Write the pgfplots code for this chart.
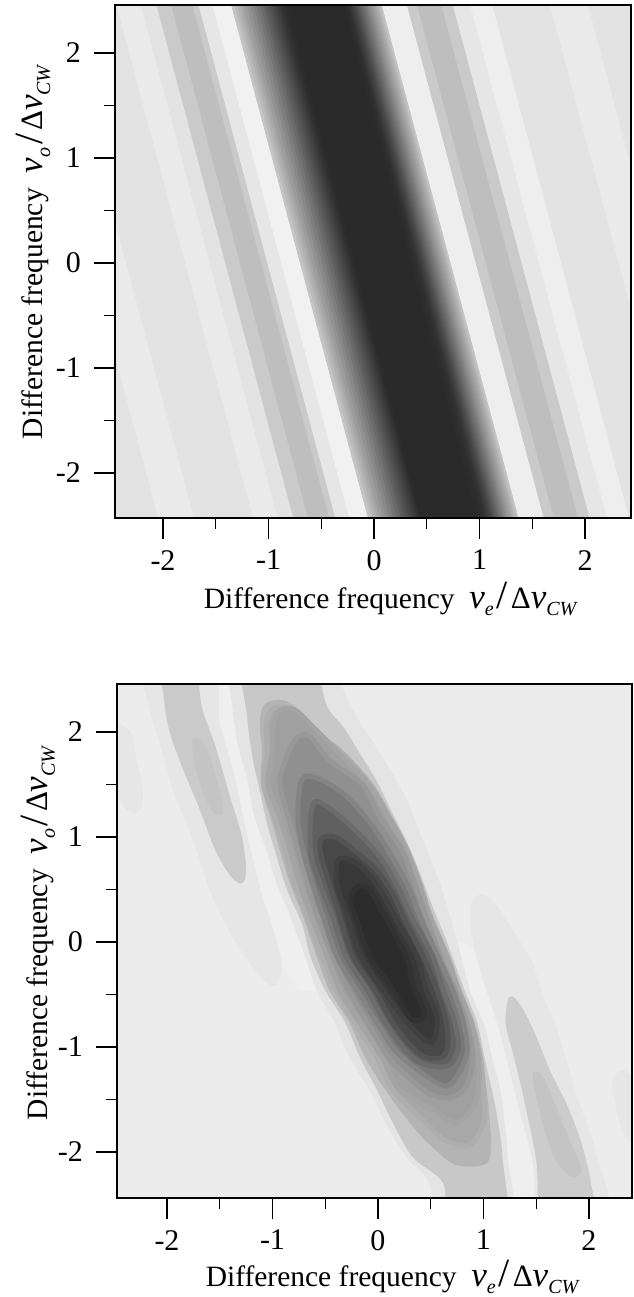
\documentclass[border=0pt]{standalone}
\usepackage{fontspec}
\setmainfont{Liberation Serif}
\usepackage{pgfplots}
\pgfplotsset{compat=1.18}
\newcommand\dc[1]{\definecolor{g#1}{HTML}{#1#1#1}}
\dc{EF}\dc{EE}\dc{EC}\dc{EA}\dc{E8}\dc{E6}\dc{E4}\dc{E3}\dc{CC}\dc{CA}\dc{C8}\dc{C4}\dc{C2}\dc{BE}\dc{BA}\dc{B4}\dc{B0}\dc{AE}\dc{A8}\dc{A6}\dc{A4}\dc{A0}\dc{9C}\dc{98}\dc{92}\dc{90}\dc{88}\dc{84}\dc{7E}\dc{78}\dc{74}\dc{6C}\dc{6A}\dc{60}\dc{58}\dc{54}\dc{50}\dc{48}\dc{42}\dc{40}\dc{3C}\dc{38}\dc{36}\dc{32}\dc{2E}\dc{2C}\dc{2A}\dc{F1}
\newcommand\fs{\fontsize{29.5}{32}\selectfont}
\newcommand\sub[1]{\raisebox{-0.24em}{\fontsize{20}{20}\selectfont\itshape #1}}
\newcommand\nuu{{\fontsize{35}{35}\selectfont\itshape ν}}
\newcommand\lab[1]{\fs Difference frequency\hspace{.5em}\nuu\sub{#1}\hspace{.1em}{\fontsize{40}{40}\selectfont /}\hspace{.1em}{\fontsize{31}{31}\selectfont Δ}\nuu\sub{CW}}
\pgfplotsset{panel/.style={
  scale only axis, anchor=south west, axis on top,
  line width=1.7pt,
  tick pos=left, tick align=outside,
  major tick length=21pt, minor tick length=11pt,
  every tick/.style={line width=1.2pt,black},
  every minor tick/.style={line width=1.2pt,black},
  xtick={-2,-1,0,1,2}, ytick={-2,-1,0,1,2},
  xticklabels={-2,-1,0,1,2}, yticklabels={-2,-1,0,1,2},
  minor xtick={-1.5,-0.5,0.5,1.5}, minor ytick={-1.5,-0.5,0.5,1.5},
  xticklabel style={font=\fontsize{30}{32}\selectfont, yshift=-7pt},
  yticklabel style={font=\fontsize{30}{32}\selectfont, xshift=-9pt},
  xlabel style={anchor=center},
  ylabel style={anchor=center},
  flat/.style={smooth cycle, tension=0.55, draw=none, fill=##1},
  lev/.style 2 args={smooth cycle, tension=0.55, draw=##2, line width=5pt, line join=round, fill=##1},
}}
\begin{document}
\begin{tikzpicture}
\useasboundingbox (0,0) rectangle (633pt,1297pt);
\begin{axis}[panel, at={(115pt,779pt)}, width=516pt, height=513pt,
  xmin=-2.455, xmax=2.436, ymin=-2.429, ymax=2.457,
  axis background/.style={fill=gE3},
  xlabel={\lab{e}}, ylabel={\lab{o}},
  xlabel style={at={(axis description cs:0.533,-0.158)}},
  ylabel style={at={(axis description cs:-0.158,0.518)}}]
\addplot[draw=none,fill=gEA] coordinates {(-2.00,-2.6) (-1.66,-2.6) (-3.04,2.6) (-3.38,2.6)} --cycle;
\addplot[draw=none,fill=gEA] coordinates {(-1.10,-2.6) (-0.87,-2.6) (-2.25,2.6) (-2.48,2.6)} --cycle;
\addplot[draw=none,fill=gCA] coordinates {(-0.72,-2.6) (-0.32,-2.6) (-1.70,2.6) (-2.10,2.6)} --cycle;
\addplot[draw=none,fill=gBE] coordinates {(-0.58,-2.6) (-0.38,-2.6) (-1.76,2.6) (-1.96,2.6)} --cycle;
\addplot[draw=none,fill=gE6] coordinates {(-0.32,-2.6) (-0.19,-2.6) (-1.57,2.6) (-1.70,2.6)} --cycle;
\addplot[draw=none,fill=gF1] coordinates {(-0.19,-2.6) (-0.01,-2.6) (-1.39,2.6) (-1.57,2.6)} --cycle;
\addplot[draw=none,fill=gEE] coordinates {(1.415,-2.6) (1.654,-2.6) (0.274,2.6) (0.035,2.6)} --cycle;
\addplot[draw=none,fill=gCA] coordinates {(1.654,-2.6) (2.09,-2.6) (0.71,2.6) (0.274,2.6)} --cycle;
\addplot[draw=none,fill=gBE] coordinates {(1.75,-2.6) (1.978,-2.6) (0.598,2.6) (0.37,2.6)} --cycle;
\addplot[draw=none,fill=gE6] coordinates {(2.09,-2.6) (2.253,-2.6) (0.873,2.6) (0.71,2.6)} --cycle;
\addplot[draw=none,fill=gEE] coordinates {(2.253,-2.6) (2.463,-2.6) (1.083,2.6) (0.873,2.6)} --cycle;
\addplot[draw=none,fill=gEA] coordinates {(3.01,-2.6) (3.37,-2.6) (1.99,2.6) (1.63,2.6)} --cycle;
\addplot[draw=none,fill=gC4] coordinates {(-0.012,-2.6) (1.415,-2.6) (0.035,2.6) (-1.392,2.6)} --cycle;
\addplot[draw=none,fill=gBA] coordinates {(0.017,-2.6) (1.397,-2.6) (0.017,2.6) (-1.363,2.6)} --cycle;
\addplot[draw=none,fill=gB0] coordinates {(0.046,-2.6) (1.379,-2.6) (-0.001,2.6) (-1.334,2.6)} --cycle;
\addplot[draw=none,fill=gA6] coordinates {(0.074,-2.6) (1.36,-2.6) (-0.02,2.6) (-1.306,2.6)} --cycle;
\addplot[draw=none,fill=g9C] coordinates {(0.101,-2.6) (1.340,-2.6) (-0.04,2.6) (-1.279,2.6)} --cycle;
\addplot[draw=none,fill=g92] coordinates {(0.134,-2.6) (1.319,-2.6) (-0.061,2.6) (-1.246,2.6)} --cycle;
\addplot[draw=none,fill=g88] coordinates {(0.166,-2.6) (1.298,-2.6) (-0.082,2.6) (-1.214,2.6)} --cycle;
\addplot[draw=none,fill=g7E] coordinates {(0.198,-2.6) (1.279,-2.6) (-0.101,2.6) (-1.182,2.6)} --cycle;
\addplot[draw=none,fill=g74] coordinates {(0.23,-2.6) (1.26,-2.6) (-0.12,2.6) (-1.15,2.6)} --cycle;
\addplot[draw=none,fill=g6A] coordinates {(0.263,-2.6) (1.239,-2.6) (-0.141,2.6) (-1.117,2.6)} --cycle;
\addplot[draw=none,fill=g60] coordinates {(0.295,-2.6) (1.218,-2.6) (-0.162,2.6) (-1.085,2.6)} --cycle;
\addplot[draw=none,fill=g58] coordinates {(0.323,-2.6) (1.201,-2.6) (-0.179,2.6) (-1.057,2.6)} --cycle;
\addplot[draw=none,fill=g50] coordinates {(0.35,-2.6) (1.185,-2.6) (-0.195,2.6) (-1.03,2.6)} --cycle;
\addplot[draw=none,fill=g48] coordinates {(0.375,-2.6) (1.169,-2.6) (-0.211,2.6) (-1.005,2.6)} --cycle;
\addplot[draw=none,fill=g42] coordinates {(0.399,-2.6) (1.153,-2.6) (-0.227,2.6) (-0.981,2.6)} --cycle;
\addplot[draw=none,fill=g3C] coordinates {(0.42,-2.6) (1.136,-2.6) (-0.244,2.6) (-0.96,2.6)} --cycle;
\addplot[draw=none,fill=g36] coordinates {(0.441,-2.6) (1.12,-2.6) (-0.26,2.6) (-0.939,2.6)} --cycle;
\addplot[draw=none,fill=g32] coordinates {(0.46,-2.6) (1.107,-2.6) (-0.273,2.6) (-0.92,2.6)} --cycle;
\addplot[draw=none,fill=g2E] coordinates {(0.47,-2.6) (1.08,-2.6) (-0.285,2.6) (-0.90,2.6)} --cycle;
\addplot[draw=none,fill=g2C] coordinates {(0.48,-2.6) (1.05,-2.6) (-0.305,2.6) (-0.88,2.6)} --cycle;
\addplot[draw=none,fill=g2A] coordinates {(0.49,-2.6) (1.02,-2.6) (-0.324,2.6) (-0.858,2.6)} --cycle;
\end{axis}
\begin{axis}[panel, at={(117pt,99pt)}, width=515pt, height=514pt,
  xmin=-2.474, xmax=2.408, ymin=-2.438, ymax=2.457,
  axis background/.style={fill=gEC},
  xlabel={\lab{e}}, ylabel={\lab{o}},
  xlabel style={at={(axis description cs:0.534,-0.154)}},
  ylabel style={at={(axis description cs:-0.153,0.515)}}]
% lighter strips
\addplot[draw=none,fill=gEF] coordinates {(-1.55,2.6) (-1.40,2.6) (-1.33,1.89) (-1.17,1.19) (-0.96,0.55) (-0.69,-0.14) (-0.58,-0.46) (-0.75,-0.46) (-0.91,-0.24) (-1.12,0.52) (-1.25,1.06) (-1.38,1.67) (-1.50,2.08)} --cycle;
\addplot[draw=none,fill=gEF] coordinates {(0.75,0.01) (0.87,-0.46) (1.00,-0.77) (1.08,-1.10) (1.16,-1.41) (1.20,-1.72) (1.23,-2.05) (1.25,-2.6) (1.55,-2.6) (1.47,-2.11) (1.31,-1.48) (1.15,-0.84) (1.00,-0.37) (0.91,-0.05)} --cycle;
% left lobe
\addplot[flat=gE6] coordinates {(-2.6,2.08) (-2.36,2.02) (-2.30,1.79) (-2.23,1.44) (-2.26,1.25) (-2.36,1.24) (-2.44,1.35) (-2.6,1.54)};
\addplot[flat=gE6] coordinates {(-2.22,2.7) (-1.57,2.7) (-1.50,2.08) (-1.38,1.67) (-1.25,1.06) (-1.12,0.52) (-0.99,0.11) (-0.95,-0.05) (-0.91,-0.24) (-0.97,-0.41) (-1.08,-0.37) (-1.21,-0.21) (-1.38,0.05) (-1.57,0.43) (-1.73,0.90) (-1.93,1.41) (-2.06,1.86) (-2.15,2.17)};
\addplot[flat=gCA] coordinates {(-2.04,2.7) (-1.75,2.7) (-1.67,2.24) (-1.54,1.86) (-1.41,1.41) (-1.29,1.00) (-1.25,0.68) (-1.29,0.56) (-1.39,0.62) (-1.54,0.87) (-1.70,1.29) (-1.83,1.60) (-1.96,1.95) (-2.02,2.24)};
\addplot[flat=gC4] coordinates {(-1.76,1.92) (-1.63,1.86) (-1.50,1.44) (-1.47,1.22) (-1.57,1.25) (-1.70,1.54)};
% right lobe
\addplot[flat=gE6] coordinates {(0.92,0.43) (1.04,0.43) (1.18,0.27) (1.38,-0.05) (1.47,-0.21) (1.57,-0.52) (1.70,-0.84) (1.89,-1.48) (2.05,-1.95) (2.20,-2.7) (1.55,-2.7) (1.47,-2.11) (1.31,-1.48) (1.15,-0.84) (1.00,-0.37) (0.91,-0.05) (0.87,0.27)};
\addplot[flat=gCC] coordinates {(1.23,-0.56) (1.28,-0.52) (1.38,-0.65) (1.50,-0.90) (1.63,-1.22) (1.80,-1.57) (1.93,-1.92) (2.02,-2.30) (2.04,-2.7) (1.57,-2.7) (1.50,-2.08) (1.38,-1.48) (1.28,-1.06) (1.21,-0.78)};
\addplot[flat=gC4] coordinates {(1.47,-1.25) (1.57,-1.29) (1.70,-1.60) (1.83,-1.92) (1.93,-2.17) (1.83,-2.24) (1.67,-2.05) (1.57,-1.76) (1.50,-1.48)};
\addplot[flat=gE6] coordinates {(2.22,-1.35) (2.28,-1.24) (2.38,-1.25) (2.54,-1.48) (2.54,-1.92) (2.35,-1.86) (2.28,-1.67)};
% central blob
\addplot[flat=gE4] coordinates {(-1.42,2.7) (-0.34,2.7) (-0.34,2.44) (-0.20,2.14) (-0.05,1.91) (0.14,1.60) (0.30,1.29) (0.43,0.96) (0.59,0.55) (0.75,0.01) (0.87,-0.46) (1.00,-0.77) (1.08,-1.10) (1.16,-1.41) (1.20,-1.72) (1.23,-2.05) (1.25,-2.7) (0.57,-2.7) (0.49,-2.30) (0.27,-2.05) (0.07,-1.72) (-0.08,-1.41) (-0.27,-1.10) (-0.41,-0.77) (-0.58,-0.46) (-0.69,-0.14) (-0.85,0.30) (-0.96,0.55) (-1.05,0.87) (-1.17,1.19) (-1.24,1.57) (-1.33,1.89) (-1.40,2.39)};
\addplot[flat=gC8] coordinates {(-1.26,2.7) (-0.66,2.7) (-0.48,2.24) (-0.33,2.05) (-0.17,1.79) (-0.01,1.53) (0.14,1.22) (0.27,0.96) (0.40,0.65) (0.52,0.33) (0.65,0.01) (0.82,-0.46) (0.94,-0.77) (1.01,-1.10) (1.08,-1.41) (1.14,-1.72) (1.18,-2.05) (1.20,-2.7) (0.68,-2.7) (0.62,-2.30) (0.33,-2.05) (0.14,-1.72) (-0.01,-1.41) (-0.17,-1.10) (-0.31,-0.77) (-0.50,-0.46) (-0.64,-0.14) (-0.72,0.17) (-0.86,0.49) (-0.96,0.81) (-1.05,1.12) (-1.12,1.44) (-1.19,1.76) (-1.24,2.14)};
\addplot[flat=gB4] coordinates {(-1.12,2.08) (-1.09,2.24) (-1.00,2.30) (-0.86,2.29) (-0.67,2.14) (-0.48,1.91) (-0.29,1.70) (-0.06,1.50) (0.09,1.19) (0.24,0.87) (0.38,0.55) (0.47,0.24) (0.67,-0.14) (0.78,-0.46) (0.89,-0.77) (0.97,-1.10) (1.03,-1.41) (1.06,-1.72) (1.07,-1.98) (1.01,-2.12) (0.73,-2.12) (0.49,-1.93) (0.30,-1.72) (0.07,-1.41) (-0.12,-1.10) (-0.27,-0.77) (-0.46,-0.46) (-0.58,-0.14) (-0.71,0.24) (-0.83,0.55) (-0.93,0.87) (-1.02,1.19) (-1.11,1.50) (-1.10,1.82)};
\addplot[lev={gA8}{gAE}] coordinates {(-1.02,2.19) (-0.93,2.24) (-0.79,2.19) (-0.57,1.97) (-0.36,1.82) (-0.07,1.50) (0.11,1.19) (0.28,0.87) (0.40,0.55) (0.50,0.24) (0.66,-0.14) (0.77,-0.46) (0.89,-0.77) (0.97,-1.10) (1.00,-1.41) (1.00,-1.72) (0.87,-1.93) (0.64,-1.89) (0.45,-1.72) (0.14,-1.41) (-0.01,-1.10) (-0.22,-0.77) (-0.39,-0.46) (-0.53,-0.14) (-0.67,0.24) (-0.79,0.55) (-0.88,0.87) (-0.98,1.19) (-1.08,1.50) (-1.05,1.82) (-1.06,2.07)};
\addplot[lev={gA0}{gA4}] coordinates {(-0.93,2.21) (-0.79,2.21) (-0.64,2.07) (-0.39,1.82) (-0.09,1.50) (0.10,1.19) (0.27,0.87) (0.39,0.55) (0.49,0.24) (0.65,-0.14) (0.76,-0.46) (0.88,-0.77) (0.95,-1.10) (0.95,-1.41) (0.87,-1.62) (0.73,-1.72) (0.56,-1.62) (0.21,-1.41) (0.04,-1.10) (-0.17,-0.77) (-0.36,-0.46) (-0.48,-0.14) (-0.63,0.24) (-0.74,0.55) (-0.83,0.87) (-0.93,1.19) (-1.04,1.50) (-1.00,1.82) (-0.99,2.07)};
\addplot[lev={g90}{g98}] coordinates {(-0.76,1.95) (-0.64,1.95) (-0.46,1.73) (-0.15,1.50) (0.02,1.19) (0.23,0.87) (0.35,0.55) (0.46,0.24) (0.59,-0.14) (0.73,-0.46) (0.84,-0.77) (0.90,-1.10) (0.84,-1.36) (0.70,-1.48) (0.50,-1.45) (0.30,-1.30) (0.10,-1.10) (-0.10,-0.77) (-0.28,-0.46) (-0.43,-0.14) (-0.57,0.24) (-0.67,0.55) (-0.76,0.87) (-0.85,1.19) (-0.93,1.50) (-0.88,1.73)};
\addplot[lev={g78}{g84}] coordinates {(-0.72,1.55) (-0.55,1.55) (-0.29,1.38) (-0.05,1.10) (0.14,0.80) (0.30,0.50) (0.40,0.24) (0.57,-0.14) (0.71,-0.46) (0.81,-0.77) (0.84,-1.08) (0.68,-1.36) (0.49,-1.30) (0.18,-1.05) (-0.01,-0.77) (-0.20,-0.46) (-0.39,-0.14) (-0.52,0.24) (-0.62,0.55) (-0.71,0.87) (-0.76,1.19)};
\addplot[lev={g60}{g6C}] coordinates {(-0.62,1.30) (-0.50,1.30) (-0.20,1.05) (0.04,0.78) (0.20,0.50) (0.32,0.24) (0.52,-0.14) (0.62,-0.46) (0.73,-0.77) (0.76,-1.02) (0.66,-1.18) (0.42,-1.16) (0.25,-1.02) (0.07,-0.77) (-0.10,-0.46) (-0.30,-0.14) (-0.43,0.24) (-0.55,0.55) (-0.64,0.87)};
\addplot[lev={g48}{g54}] coordinates {(-0.54,0.98) (-0.40,1.00) (-0.20,0.85) (-0.01,0.68) (0.14,0.46) (0.26,0.20) (0.43,-0.14) (0.56,-0.46) (0.65,-0.77) (0.66,-1.00) (0.60,-1.10) (0.46,-1.10) (0.32,-1.00) (0.14,-0.77) (-0.03,-0.46) (-0.24,-0.14) (-0.36,0.24) (-0.46,0.55) (-0.54,0.82)};
\addplot[lev={g38}{g40}] coordinates {(-0.38,0.78) (-0.26,0.78) (-0.12,0.68) (0.03,0.48) (0.18,0.20) (0.37,-0.14) (0.46,-0.46) (0.56,-0.72) (0.53,-0.93) (0.44,-0.93) (0.24,-0.72) (0.05,-0.46) (-0.16,-0.14) (-0.29,0.24) (-0.39,0.55)};
\addplot[lev={g2C}{g32}] coordinates {(-0.20,0.52) (-0.10,0.52) (-0.02,0.40) (0.09,0.20) (0.27,-0.14) (0.33,-0.40) (0.44,-0.66) (0.40,-0.74) (0.30,-0.72) (0.12,-0.42) (-0.08,-0.14) (-0.20,0.20) (-0.26,0.40)};
\end{axis}
\end{tikzpicture}
\end{document}
